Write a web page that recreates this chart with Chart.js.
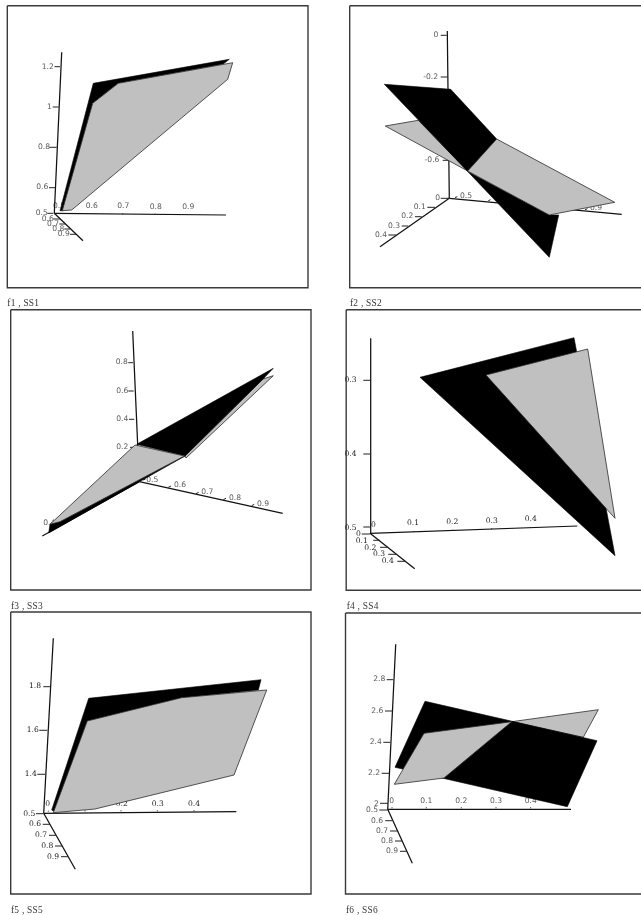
<!DOCTYPE html>
<html><head><meta charset="utf-8">
<script src="https://cdn.jsdelivr.net/npm/chart.js@4"></script>
<style>
html,body{margin:0;padding:0;background:#fff;overflow:hidden;width:641px;height:915px}
canvas{position:absolute;filter:blur(.35px)}
.cap{position:absolute;font:9.4px "Liberation Serif",serif;color:#333;white-space:pre;letter-spacing:.25px;line-height:10px;filter:blur(.25px)}
</style></head><body>
<script>
const f1Frame=[[7.3,5.7],[308,5.7],[308,287.7],[7.3,287.7],[7.3,5.7]];
const f1Axes=[[[54.3,213.3],[61.7,52.3]],[[54.3,213.3],[226,215]],[[54.3,213.3],[83,240.7]]];
const f1Ticks=[[[54.5,66.7],[60,66.7]],[[52.7,107],[58.7,107]],[[49.3,147.3],[56.7,147.3]],[[49,187.7],[55.7,187.7]],[[47.3,213.3],[53.3,213.3]],[[90,214],[90,213]],[[122.7,214.3],[122.7,213.3]],[[155,214.7],[155,213.7]],[[187.7,215],[187.7,214]],[[53.3,219],[60,219]],[[59.3,224],[65,224]],[[64.3,229],[70,229]],[[70,234.3],[76.7,234.3]]];
const f1Text=["1.2","1","0.8","0.6","0.5","0.5","0.6","0.7","0.8","0.9","0.6","0.7","0.8","0.9"];
const f1TextAt=[[47.7,66.7],[49.3,107],[44,147.3],[42.3,187.3],[41.7,213.3],[59,205.7],[91.7,206],[123.3,206.3],[155.7,206.7],[188.3,207.3],[47.7,218.7],[53,224],[58.3,229.3],[63.7,234.3]];
const f1Black=[[60,210.7],[93.3,83.3],[229.3,59.3],[223.3,64],[118.3,83.3],[92.7,103.3],[63.3,210.7]];
const f1Gray=[[62.3,210.7],[92.7,103.3],[118.3,83.3],[232.7,62.7],[227.7,79.3],[71.7,210]];

const f2Frame=[[349.7,5.7],[660,5.7],[660,287.7],[349.7,287.7],[349.7,5.7]];
const f2Axes=[[[449.3,198.3],[447.3,31]],[[449.3,198.3],[621.7,214.3]],[[449.3,198.3],[380,246.7]]];
const f2Ticks=[[[440.7,35.3],[446.7,35.3]],[[440.7,77],[447.7,77]],[[442.7,160.3],[449,160.3]],[[440.7,198.3],[449,198.3]],[[455,197.5],[457.3,196.7]],[[488.3,200.7],[490.5,199.7]],[[585,209.7],[587.5,208.7]],[[427.3,207.3],[435,207.3]],[[415,216.7],[421.7,216.7]],[[401.7,226],[408.3,226]],[[388.3,235],[396,235]]];
const f2Text=["0","-0.2","-0.6","0","0.5","0.9","0.1","0.2","0.3","0.4"];
const f2TextAt=[[436,35.3],[430.7,76.7],[432,160.3],[437.7,198],[466,195.7],[596,208.3],[419.7,207],[407.3,216.3],[394,225.7],[381,235]];
const f2GrayBack=[[385.3,126],[418.3,120.3],[467.7,171]];
const f2BlackUp=[[384.3,84.3],[450.7,89.3],[496.7,139],[467.7,171.5]];
const f2BlackLow=[[467.7,171.5],[549.3,215],[558.7,215],[549.3,257.3]];
const f2Gray=[[467.7,171],[496.7,139],[614.7,202.3],[549.3,215]];

const f3Frame=[[10.7,309.7],[311,309.7],[311,590],[10.7,590],[10.7,309.7]];
const f3Axes=[[[139.3,481.7],[132.7,331]],[[139.3,481.7],[282.7,513.3]],[[139.3,481.7],[42.3,536]]];
const f3Ticks=[[[128.3,362.7],[133,362.7]],[[128.3,391],[133.7,391]],[[129,419.3],[134.3,419.3]],[[130,447.3],[135,447.3]],[[143.3,480],[145.5,479]],[[168.3,487.3],[171,486]],[[196,493.7],[198.7,492.3]],[[223.3,499.7],[226,498.3]],[[251.7,505.7],[254.3,504.3]]];
const f3Text=["0.8","0.6","0.4","0.2","0.5","0.6","0.7","0.8","0.9","0.4"];
const f3TextAt=[[121.7,362.3],[122.3,390.7],[122.3,418.7],[122.3,447.3],[152.3,479.7],[180,485.3],[207.3,491.7],[235,497.7],[263,503.7],[49.3,522.7]];
const f3Strip=[[185,456],[263,379],[273.3,375.7],[186,458]];
const f3BlackUp=[[136.7,444.3],[273.3,368.3],[263,379],[185,456]];
const f3BlackLow=[[185,456],[48.7,533],[50,524.3]];
const f3Gray=[[135,445],[184.3,456],[60,521.7],[50,524.3]];

const f4Frame=[[346.2,309.7],[660,309.7],[660,590.3],[346.2,590.3],[346.2,309.7]];
const f4Axes=[[[370,533.3],[370.7,338.3]],[[370,533.3],[577.3,526]],[[370,533.3],[414.7,568.7]]];
const f4Ticks=[[[363.3,380.3],[370.7,380.3]],[[363.3,454],[370.3,454]],[[363.3,527],[370,527]],[[361.7,534],[370,534]],[[413.7,532],[413.7,531]],[[452.7,530.7],[452.7,529.7]],[[491.7,529.3],[491.7,528.3]],[[530.7,528],[530.7,527]],[[373.3,540.3],[380,540.3]],[[380,547.3],[388.3,547.3]],[[388.3,554.3],[396,554.3]],[[397.3,561.3],[405.7,561.3]]];
const f4Text=["0.3","0.4","0.5","0","0","0.1","0.2","0.3","0.4","0.1","0.2","0.3","0.4"];
const f4TextAt=[[350.5,380.3],[350.5,454],[350.5,527.7],[358.3,534.3],[373.3,525],[413,523.3],[452.3,522],[491.7,520.7],[530.7,519.3],[361.7,541],[370.3,547.7],[379,554.3],[387.7,561.3]];
const f4Black=[[420,377.3],[574,337.7],[615,555.7]];
const f4Gray=[[486,375],[587.7,349],[615,518.3]];

const f5Frame=[[10.7,612],[311,612],[311,894],[10.7,894],[10.7,612]];
const f5Axes=[[[43.7,813.3],[53.3,638.3]],[[43.7,813.3],[236.3,811.7]],[[43.7,813.3],[75.3,869.3]]];
const f5Ticks=[[[43.3,686.7],[50,686.7]],[[39.3,730.3],[47.3,730.3]],[[37.3,774.3],[45,774.3]],[[36,813.7],[43.3,813.7]],[[48.3,811.7],[48.3,810.7]],[[85,811.3],[85,810.3]],[[121,811.3],[121,810.3]],[[157.3,811.3],[157.3,810.3]],[[194,811.3],[194,810.3]],[[42.7,824.3],[50,824.3]],[[49,835.3],[56,835.3]],[[55,846],[62,846]],[[61,856.7],[68,856.7]]];
const f5Text=["1.8","1.6","1.4","0.5","0","0.1","0.2","0.3","0.4","0.6","0.7","0.8","0.9"];
const f5TextAt=[[35,686.3],[32.7,730.3],[30.7,774.3],[29.3,813.7],[47.7,803.7],[85,803.7],[121.7,803.7],[157.7,803.7],[194,803.7],[35,824.3],[41,835.3],[47.3,846],[53,856.7]];
const f5Black=[[51.7,810],[88.7,698.3],[261,679.7],[258.3,690],[181.7,697.7],[87.3,721],[55,811.7]];
const f5Gray=[[53.3,812.7],[87.3,721],[181.7,697.7],[266.7,690],[234,775],[95,809]];

const f6Frame=[[345.5,613],[660,613],[660,894],[345.5,894],[345.5,613]];
const f6Axes=[[[387.7,809.3],[395.7,644.3]],[[387.7,809.3],[571,809.3]],[[387.7,809.3],[412.3,863.3]]];
const f6Ticks=[[[386.7,679.7],[393.3,679.7]],[[385,711],[392.3,711]],[[383.3,742.3],[390.3,742.3]],[[381.7,773.3],[389,773.3]],[[380,803.3],[388,803.3]],[[379.3,810],[387.7,810]],[[392,808.3],[392,807.3]],[[426.3,808.3],[426.3,807.3]],[[461.3,808.3],[461.3,807.3]],[[496,808.3],[496,807.3]],[[530.7,808.3],[530.7,807.3]],[[385.3,820.7],[392.3,820.7]],[[390,831],[397.3,831]],[[395,841],[402.3,841]],[[400,851.3],[406.7,851.3]]];
const f6Text=["2.8","2.6","2.4","2.2","2","0.5","0","0.1","0.2","0.3","0.4","0.6","0.7","0.8","0.9"];
const f6TextAt=[[379.3,679.3],[377.3,711],[375.7,742.3],[374,773.3],[376.3,803.7],[372,810.3],[391.7,800.7],[426.3,800.7],[461.3,800.7],[496,800.7],[530.7,800.7],[377,820.7],[382,830.7],[387,841],[392,851.3]];
const f6GrayBack=[[511.7,721.7],[598.3,709.7],[583.3,737.3]];
const f6Black=[[425,701.3],[597,740.7],[567.3,806.7],[395,767.3]];
const f6Gray=[[424,733.3],[511.7,721.7],[444,778],[394.3,784.3]];

const captions=["f1 , SS1","f2 , SS2","f3 , SS3","f4 , SS4","f5 , SS5","f6 , SS6"];
const captionAt=[[7.3,297.5],[350,297.5],[11,601],[346.7,601],[11,905],[346,905]];

const SANS='7.6px "DejaVu Sans",sans-serif', SERIF='7.6px "DejaVu Serif",serif';
const GREY='#c0c0c0', INK='#000', EDGE='#2c2c2c';

const panels=[
 {frame:f1Frame,axes:f1Axes,ticks:f1Ticks,text:f1Text,at:f1TextAt,font:SANS,col:'#5a5a5a',shapes:[[f1Black,'k'],[f1Gray,'g']]},
 {frame:f2Frame,axes:f2Axes,ticks:f2Ticks,text:f2Text,at:f2TextAt,font:SANS,col:'#5a5a5a',shapes:[[f2GrayBack,'g'],[f2BlackUp,'k'],[f2BlackLow,'k'],[f2Gray,'g']]},
 {frame:f3Frame,axes:f3Axes,ticks:f3Ticks,text:f3Text,at:f3TextAt,font:SANS,col:'#5a5a5a',shapes:[[f3Strip,'g'],[f3BlackUp,'k'],[f3BlackLow,'k'],[f3Gray,'g']]},
 {frame:f4Frame,axes:f4Axes,ticks:f4Ticks,text:f4Text,at:f4TextAt,font:SERIF,col:'#222',shapes:[[f4Black,'k'],[f4Gray,'g']]},
 {frame:f5Frame,axes:f5Axes,ticks:f5Ticks,text:f5Text,at:f5TextAt,font:SERIF,col:'#222',shapes:[[f5Black,'k'],[f5Gray,'g']]},
 {frame:f6Frame,axes:f6Axes,ticks:f6Ticks,text:f6Text,at:f6TextAt,font:SANS,col:'#5a5a5a',shapes:[[f6GrayBack,'g'],[f6Black,'k'],[f6Gray,'g']]}
];

const pts=a=>a.map(p=>({x:p[0],y:p[1]}));
const stroke=(a,c,w)=>({data:pts(a),showLine:true,fill:false,borderColor:c,borderWidth:w,pointRadius:0,tension:0});
const poly=(a,kind)=>({data:pts(a.concat([a[0]])),showLine:true,fill:'shape',
  backgroundColor:kind==='k'?INK:GREY,borderColor:kind==='k'?INK:EDGE,borderWidth:kind==='k'?.6:.8,pointRadius:0,tension:0});

const labelPlugin={id:'viewLabels',beforeDatasetsDraw(chart,args,o){
  const c=chart.ctx,sx=chart.scales.x,sy=chart.scales.y;
  c.save();c.font=o.font;c.fillStyle=o.col;c.textAlign='center';c.textBaseline='middle';
  o.text.forEach((t,i)=>c.fillText(t,sx.getPixelForValue(o.at[i][0]),sy.getPixelForValue(o.at[i][1])));
  c.restore();
}};

panels.forEach(p=>{
  const xs=p.frame.map(q=>q[0]),ys=p.frame.map(q=>q[1]);
  const L=Math.floor(Math.min(...xs))-1,T=Math.floor(Math.min(...ys))-1;
  const R=Math.min(641,Math.ceil(Math.max(...xs))+1),B=Math.ceil(Math.max(...ys))+1;
  const cv=document.createElement('canvas');
  cv.width=R-L;cv.height=B-T;cv.style.cssText=`left:${L}px;top:${T}px;width:${R-L}px;height:${B-T}px`;
  document.body.appendChild(cv);
  const layers=[...p.axes.map(a=>stroke(a,'#111',1.25)),...p.ticks.map(a=>stroke(a,'#222',1)),
    ...p.shapes.map(s=>poly(s[0],s[1])),stroke(p.frame,'#3a3a3a',1.4)];
  layers.forEach((d,i)=>{d.order=layers.length-i;});
  new Chart(cv,{type:'scatter',data:{datasets:layers},plugins:[labelPlugin],options:{
    responsive:false,animation:false,devicePixelRatio:1,layout:{padding:0},
    plugins:{legend:{display:false},tooltip:{enabled:false},title:{display:false},
      viewLabels:{text:p.text,at:p.at,font:p.font,col:p.col}},
    events:[],
    scales:{x:{type:'linear',display:false,min:L,max:R},y:{type:'linear',display:false,min:T,max:B,reverse:true}}
  }});
});
captions.forEach((t,i)=>{
  const d=document.createElement('div');d.className='cap';d.textContent=t;
  d.style.left=captionAt[i][0]+'px';d.style.top=captionAt[i][1]+'px';document.body.appendChild(d);
});
</script>
</body></html>
